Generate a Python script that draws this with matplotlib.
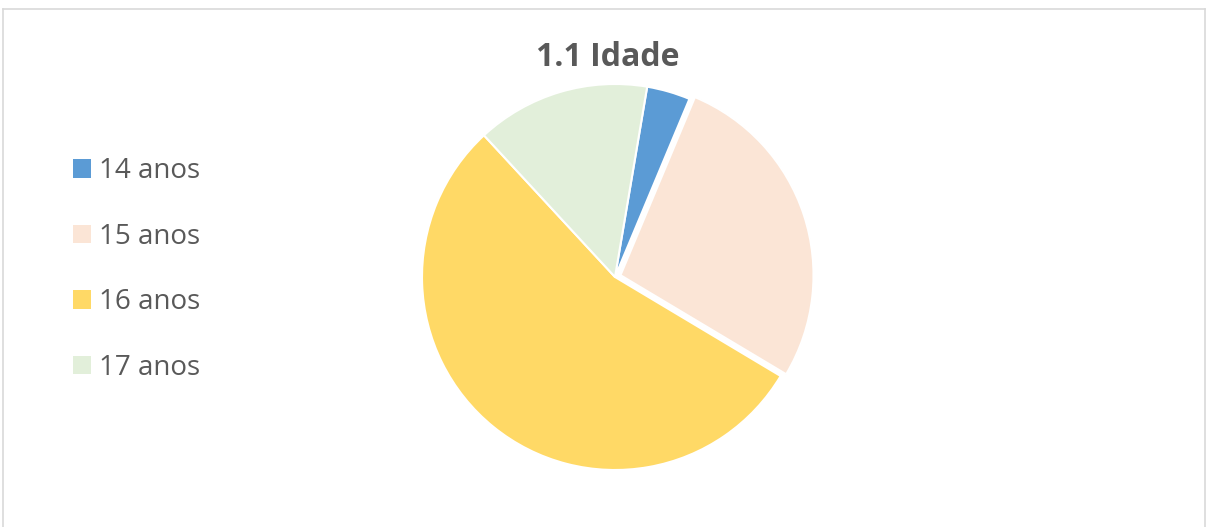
import matplotlib.pyplot as plt
from matplotlib.lines import Line2D
from matplotlib.patches import Patch

# dados do grafico
idades = ['14 anos', '15 anos', '16 anos', '17 anos']
quantidades = [2, 15, 30, 8]
cores = ['#5B9BD5', '#FBE5D6', '#FFD966', '#E2EFDA']
destaque = [0, 0.03, 0, 0]

plt.rcParams['font.family'] = ['Open Sans', 'DejaVu Sans']

fig = plt.figure(figsize=(12.09, 5.27), dpi=100)

# moldura cinza do grafico (sem linha de baixo)
W, H = 1209, 527
borda = dict(color='#D9D9D9', linewidth=1.2, transform=fig.transFigure)
fig.add_artist(Line2D([3 / W, 1205 / W], [1 - 9 / H, 1 - 9 / H], **borda))
fig.add_artist(Line2D([3 / W, 3 / W], [0, 1 - 9 / H], **borda))
fig.add_artist(Line2D([1205 / W, 1205 / W], [0, 1 - 9 / H], **borda))

ax = fig.add_axes([422 / W, 57 / H, 386 / W, 386 / H])
ax.pie(quantidades, colors=cores, explode=destaque, startangle=80.4,
       counterclock=False, wedgeprops=dict(edgecolor='white', linewidth=1.5))
ax.set_xlim(-1, 1)
ax.set_ylim(-1, 1)
ax.set_aspect('equal')
ax.axis('off')

fig.text(608 / W, 1 - 57 / H, '1.1 Idade', ha='center', va='center',
         fontsize=23, fontweight='bold', color='#595959')

handles = [Patch(facecolor=c, edgecolor='none') for c in cores]
fig.legend(handles, idades, loc='center left', bbox_to_anchor=(73 / W, 1 - 269.5 / H),
           frameon=False, fontsize=20, labelcolor='#595959', borderpad=0,
           borderaxespad=0, handlelength=0.65, handleheight=0.65,
           handletextpad=0.3, labelspacing=1.35)

plt.savefig('out.png', dpi=100)
